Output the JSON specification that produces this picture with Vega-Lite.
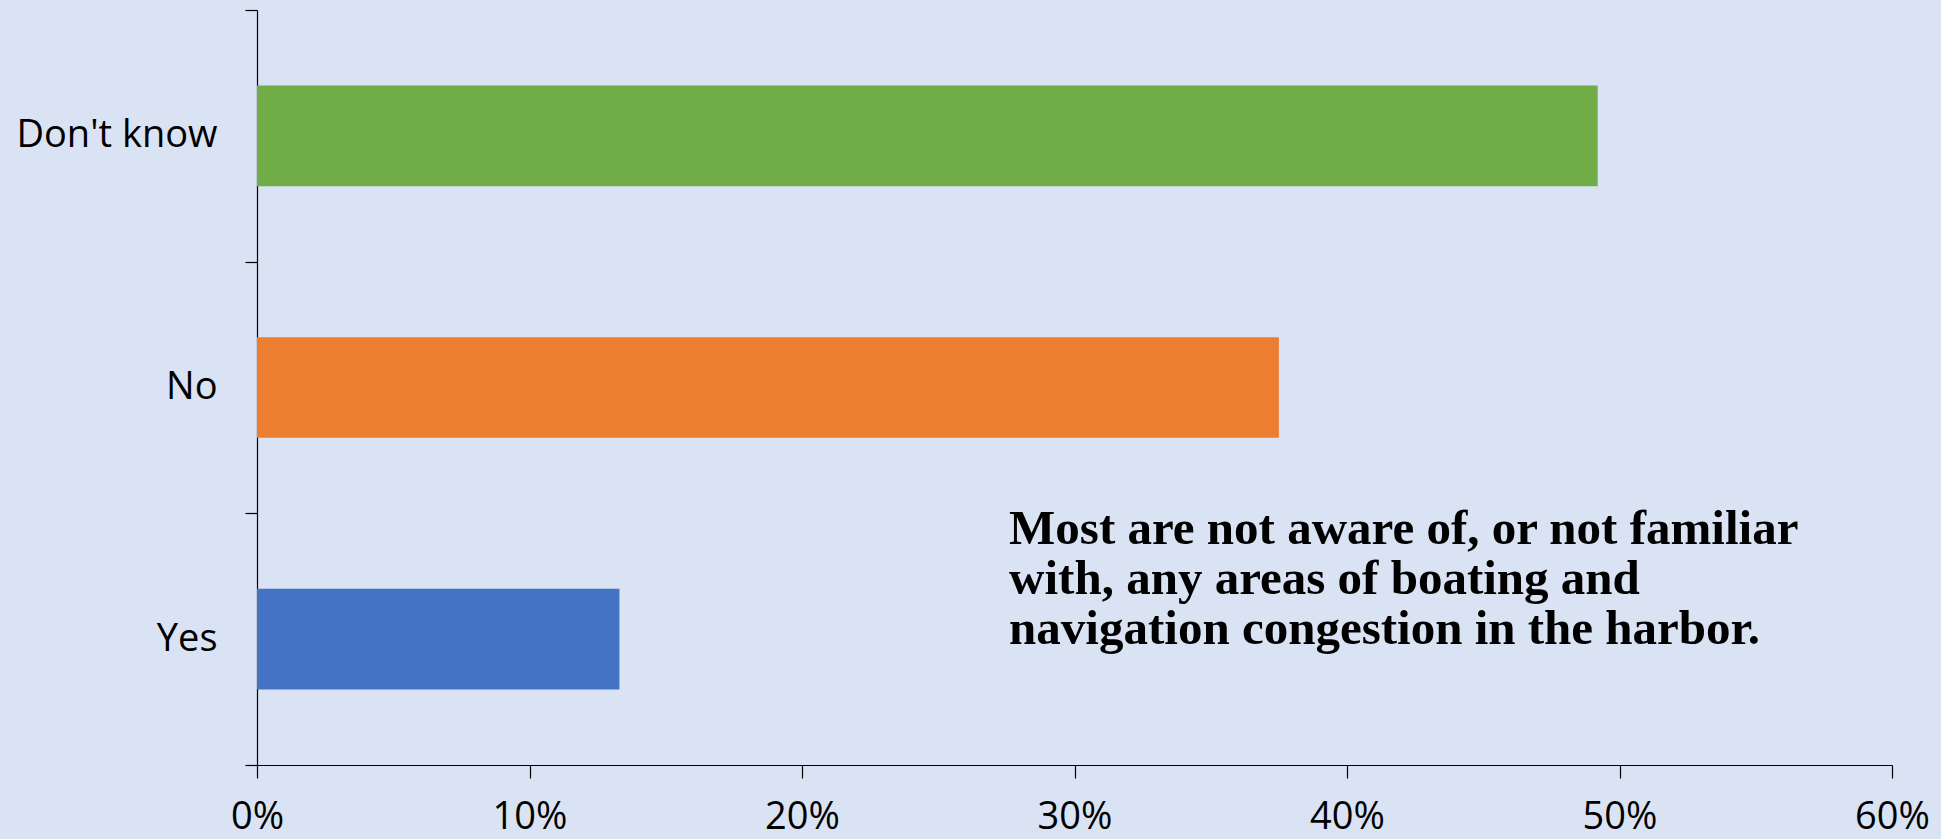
{
  "$schema": "https://vega.github.io/schema/vega-lite/v6.json",
  "width": 1635,
  "height": 755,
  "autosize": {"type": "none"},
  "padding": {"left": 257, "top": 10, "right": 49, "bottom": 74},
  "background": "#DAE3F3",
  "config": {
    "view": {"stroke": null},
    "axis": {"grid": false, "domainColor": "#000000", "tickColor": "#000000", "labelColor": "#000000", "labelFont": "Open Sans", "labelFontSize": 38, "domainWidth": 1.2, "tickWidth": 1.2, "labelLimit": 400}
  },
  "datasets": {
    "bars": [
      {"answer": "Don't know", "share": 0.492},
      {"answer": "No", "share": 0.375},
      {"answer": "Yes", "share": 0.133}
    ],
    "note": [
      {"answer": "Yes", "share": 0.276, "text": "Most are not aware of, or not familiar\nwith, any areas of boating and\nnavigation congestion in the harbor."}
    ]
  },
  "layer": [
    {
      "data": {"name": "bars"},
      "mark": {"type": "bar", "height": {"band": 0.4}},
      "encoding": {
        "y": {
          "field": "answer", "type": "nominal", "sort": ["Don't know", "No", "Yes"],
          "scale": {"paddingInner": 0, "paddingOuter": 0},
          "axis": {"title": null, "tickBand": "extent", "tickSize": 12, "labelPadding": 28}
        },
        "x": {
          "field": "share", "type": "quantitative",
          "scale": {"domain": [0, 0.6], "nice": false},
          "axis": {"title": null, "format": ".0%", "values": [0, 0.1, 0.2, 0.3, 0.4, 0.5, 0.6], "tickSize": 13, "labelPadding": 20, "labelFlush": false, "labelOverlap": false}
        },
        "color": {
          "field": "answer", "type": "nominal", "legend": null,
          "scale": {"domain": ["Don't know", "No", "Yes"], "range": ["#70AD47", "#ED7D31", "#4472C4"]}
        }
      }
    },
    {
      "data": {"name": "note"},
      "mark": {"type": "text", "align": "left", "baseline": "middle", "lineBreak": "\n", "font": "Liberation Serif", "fontWeight": "bold", "fontSize": 49, "lineHeight": 50, "color": "#000000", "dy": -110},
      "encoding": {
        "y": {"field": "answer", "type": "nominal", "sort": ["Don't know", "No", "Yes"]},
        "x": {"field": "share", "type": "quantitative"},
        "text": {"field": "text"}
      }
    }
  ]
}
